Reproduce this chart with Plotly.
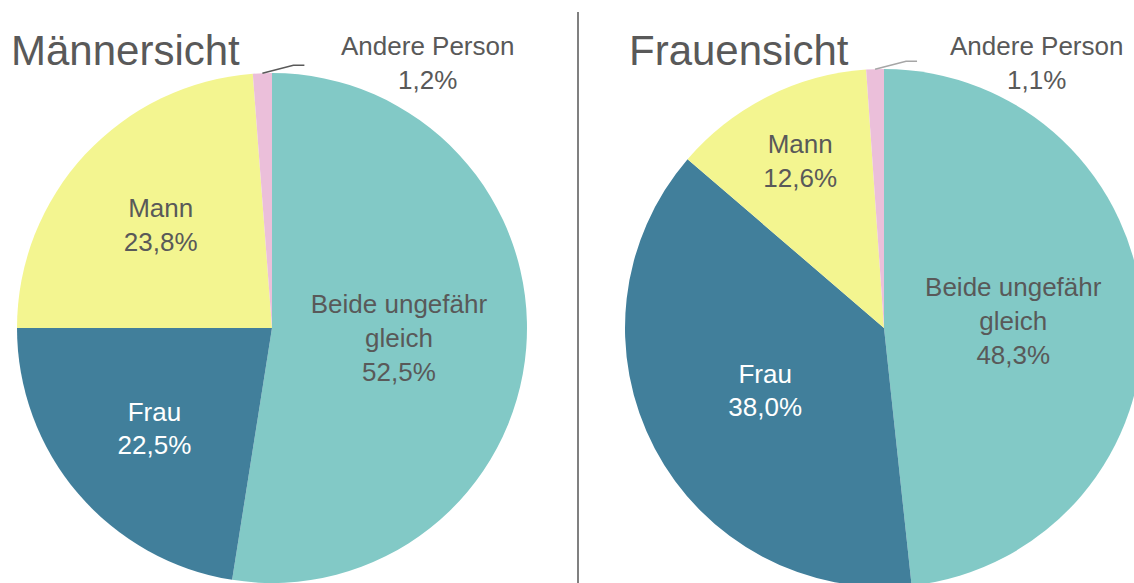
import math
import plotly.graph_objects as go

categories = ["Beide ungefähr gleich", "Frau", "Mann", "Andere Person"]
men_values = [52.5, 22.5, 23.8, 1.2]
women_values = [48.3, 38.0, 12.6, 1.1]
titles = ["Männersicht", "Frauensicht"]
colors = ["#82C9C6", "#417F9B", "#F3F590", "#EBBFDA"]
text_colors = ["#595959", "#FFFFFF", "#595959", "#595959"]

W, H = 1145, 590
GRAY = "#595959"
FONT = "Liberation Sans, Arial, sans-serif"

# pie geometry in pixels (layout only)
pies = [
    dict(cx=272, cy=328, r=255, vals=men_values, title_x=9, lab_x=427, line_col="#595959"),
    dict(cx=884, cy=328, r=259, vals=women_values, title_x=627, lab_x=1036, line_col="#A6A6A6"),
]

fig = go.Figure()
for i, p in enumerate(pies):
    x0 = (p["cx"] - p["r"]) / W
    x1 = (p["cx"] + p["r"]) / W
    y0 = 1 - (p["cy"] + p["r"]) / H
    y1 = 1 - (p["cy"] - p["r"]) / H
    labels_disp = [c.replace("ungefähr ", "ungefähr<br>") for c in categories]
    fig.add_trace(go.Pie(
        labels=categories,
        values=p["vals"],
        customdata=labels_disp,
        sort=False,
        direction="clockwise",
        rotation=0,
        marker=dict(colors=colors, line=dict(width=0)),
        texttemplate="%{customdata}<br>%{value:.1f}%",
        textposition=["inside", "inside", "inside", "none"],
        insidetextorientation="horizontal",
        insidetextfont=dict(size=26, color=text_colors, family=FONT),
        showlegend=False,
        domain=dict(x=[max(0, x0), min(1, x1)], y=[max(0, y0), min(1, y1)]),
        hoverinfo="label+value",
    ))
    # title
    fig.add_annotation(x=p["title_x"] / W, y=1 - 50 / H, xref="paper", yref="paper",
                       text=titles[i], showarrow=False, xanchor="left", yanchor="middle",
                       font=dict(size=42, color=GRAY, family=FONT))
    # outside label for the small slice, with leader line to the slice edge
    vals = p["vals"]
    total = sum(vals)
    mid = (sum(vals[:3]) + vals[3] / 2) / total * 360.0
    tip_x = p["cx"] + p["r"] * math.sin(math.radians(mid))
    tip_y = p["cy"] - p["r"] * math.cos(math.radians(mid))
    fig.add_annotation(x=p["lab_x"] / W, y=1 - 63 / H, xref="paper", yref="paper",
                       text=f"{categories[3]}<br>{vals[3]:.1f}%".replace(".", ","),
                       showarrow=False, xanchor="center", yanchor="middle",
                       font=dict(size=26, color=GRAY, family=FONT))
    fig.add_shape(type="path", xref="paper", yref="paper",
                  path=f"M {tip_x / W},{1 - tip_y / H} L {(tip_x + 31) / W},{1 - (tip_y - 8) / H} L {(tip_x + 42) / W},{1 - (tip_y - 8) / H}",
                  line=dict(color=p["line_col"], width=1.5))

# vertical separator
fig.add_shape(type="line", xref="paper", yref="paper",
              x0=578 / W, x1=578 / W, y0=0, y1=1 - 12 / H,
              line=dict(color="#808080", width=2))

fig.update_layout(
    width=W, height=H,
    margin=dict(l=0, r=0, t=0, b=0),
    paper_bgcolor="white",
    plot_bgcolor="white",
    separators=",.",
    font=dict(family=FONT, color=GRAY),
)

fig.write_html("out.html",
               config={"displayModeBar": False},
               post_script="document.body.style.margin='0';document.body.style.overflow='hidden';")
